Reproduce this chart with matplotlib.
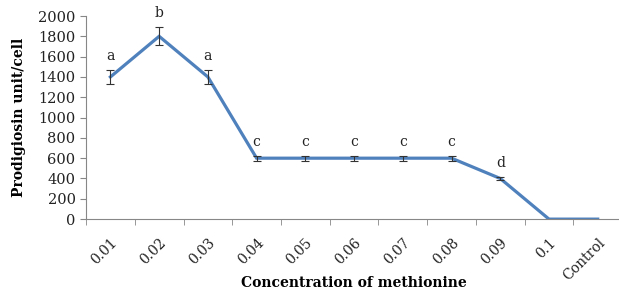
import matplotlib
matplotlib.use("Agg")
import matplotlib.pyplot as plt
import numpy as np

categories = ["0.01", "0.02", "0.03", "0.04", "0.05", "0.06", "0.07", "0.08", "0.09", "0.1", "Control"]
prodigiosin = [1400, 1800, 1400, 600, 600, 600, 600, 600, 400, 0, 0]
errors = [70, 90, 70, 25, 25, 25, 25, 25, 15, 0, 0]
letters = ["a", "b", "a", "c", "c", "c", "c", "c", "d", "", ""]

plt.rcParams["font.family"] = ["DejaVu Serif"]

fig = plt.figure(figsize=(6.19, 2.91), dpi=100)
ax = fig.add_axes([0.139, 0.247, 0.866, 0.698])

x = np.arange(len(categories))
ax.plot(x, prodigiosin, color="#4F81BD", lw=2.3, solid_joinstyle="miter", zorder=2)
ax.errorbar(x[:9], prodigiosin[:9], yerr=errors[:9], fmt="none",
            ecolor="#333333", elinewidth=0.8, capsize=3, capthick=0.8, zorder=3)

for xi, yi, ei, lab in zip(x, prodigiosin, errors, letters):
    if lab:
        ax.annotate(lab, xy=(xi, yi + ei), xytext=(0, 5), textcoords="offset points",
                    ha="center", va="bottom", fontsize=10, color="#222222")

ax.set_xlim(-0.5, 10.0 + 0.5)
ax.set_ylim(0, 2000)
ax.set_yticks(range(0, 2001, 200))
ax.tick_params(axis="y", labelsize=10.5, length=4, color="#878787", labelcolor="#222222")

ax.set_xticks(x)
ax.set_xticklabels(categories, rotation=45, ha="right", rotation_mode="anchor", fontsize=10, color="#222222")
ax.tick_params(axis="x", length=0, pad=12)
ax.set_xticks(np.arange(-0.5, 10.6, 1.0), minor=True)
ax.tick_params(axis="x", which="minor", length=4, color="#878787")

for s in ["top", "right"]:
    ax.spines[s].set_visible(False)
for s in ["left", "bottom"]:
    ax.spines[s].set_color("#878787")
    ax.spines[s].set_linewidth(0.8)

ax.set_ylabel("Prodigiosin unit/cell", fontsize=10, fontweight="bold", labelpad=9)
fig.text(354 / 619, 1 - 283 / 291, "Concentration of methionine", fontsize=10,
         fontweight="bold", ha="center", va="center")

fig.savefig("out.png", dpi=100)
